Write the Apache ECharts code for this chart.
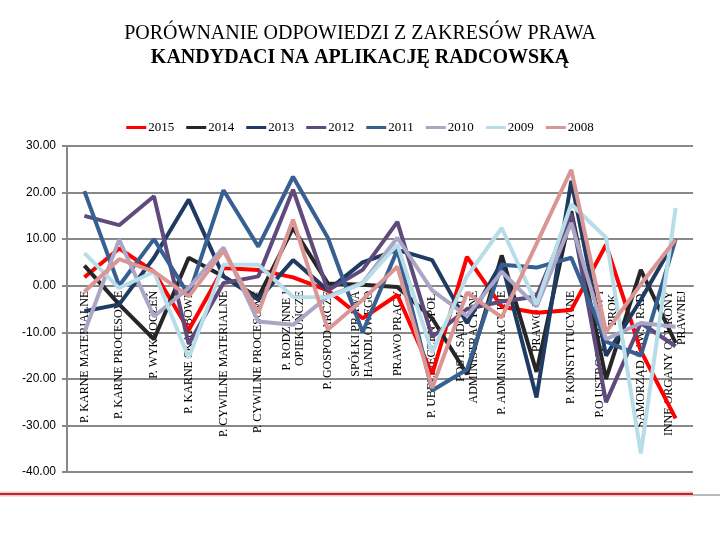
<!DOCTYPE html>
<html>
<head>
<meta charset="utf-8">
<script src="https://cdn.jsdelivr.net/npm/echarts@6/dist/echarts.min.js"></script>
<style>html,body{margin:0;padding:0;background:#fff}#c{width:720px;height:540px}</style>
</head>
<body>
<div id="c"></div>
<script>
const categories = [
  'P. KARNE MATERIALNE', 'P. KARNE PROCESOWE', 'P. WYKROCZEŃ', 'P. KARNE SKARBOWE',
  'P. CYWILNE MATERIALNE', 'P. CYWILNE PROCESOWE', 'P. RODZINNE I\nOPIEKUŃCZE', 'P. GOSPODARCZE',
  'SPÓŁKI PRAWA\nHANDLOWEGO', 'PRAWO PRACY', 'P. UBEZPIECZEŃ SPOŁ.', 'POST. SĄDOWO-\nADMINISTRACYJNE',
  'P. ADMINISTRACYJNE', 'PRAWO UE', 'P. KONSTYTUCYJNE', 'P.O USTROJU SĄDÓW I\nPROK.',
  'SAMORZĄD ZAW. I RAD.', 'INNE ORGANY OCHRONY\nPRAWNEJ'
];
const years = ['2015', '2014', '2013', '2012', '2011', '2010', '2009', '2008'];
const v2015 = [1.8, 8, 3, -9.5, 3.8, 3.4, 1.8, -1, -7, -2, -19, 6.2, -4.5, -5.8, -5.2, 8.8, -14, -28.5];
const v2014 = [4.3, -4, -11.5, 6, 2, -2.5, 12.4, 0.5, 0.2, -0.3, -7, -19, 6.5, -18.5, 16, -20, 3.4, -12.3];
const v2013 = [-5.5, -4, 6, 18.5, 2, -3, 5.5, -1, 5, 7.7, 5.5, -8, 5, -24, 22.5, -15, -3, 10];
const v2012 = [15, 13, 19.2, -12.5, 0.6, 2, 20.6, -1, 3.4, 13.7, -11, -5, -3.4, -2.3, 15.5, -25, -8, -13];
const v2011 = [20.3, 0, 10, -2, 20.5, 8.4, 23.4, 10.3, -10, 7.7, -22.5, -18, 4.5, 3.9, 6, -12, -15, 10];
const v2010 = [-10, 9.9, -6.6, -0.5, 8.2, -7.7, -8.4, -2.3, 0.6, 10.3, -1, -6.5, 3, -4.5, 13.5, -11.5, -8, -8.8];
const v2009 = [7, -0.5, 3, -15.5, 4.5, 4.5, -2.4, -2.5, 0.5, 8.8, -14.4, 2, 12.4, -4, 17.5, 10.3, -36, 16.7];
const v2008 = [-1.3, 5.7, 3, -2.3, 7.5, -5.8, 14.2, -9.4, -3, 4.1, -22, -1.5, -6.8, 9, 24.9, -9.9, 0.3, 9.9];
const seriesValues = [v2015, v2014, v2013, v2012, v2011, v2010, v2009, v2008];
const colors = ['#FF0000', '#262626', '#1F3B63', '#604A7B', '#376092', '#ABA6C6', '#B7DEE8', '#D99694'];
const yTicks = { min: -40, max: 30, interval: 10 };

const chart = echarts.init(document.getElementById('c'), null, { renderer: 'canvas' });
const serif = '"Liberation Serif", "DejaVu Serif", serif';
const sans = '"Liberation Sans", Arial, sans-serif';
const gridColor = '#888888';
const gridTop = 146, gridBottom = 68;
// distance from the plot bottom (-40) up to the zero line, so the category labels sit just under zero
const zeroOffset = (540 - gridTop - gridBottom) * (0 - yTicks.min) / (yTicks.max - yTicks.min);

chart.setOption({
  animation: false,
  backgroundColor: '#ffffff',
  color: colors,
  title: [
    { text: 'PORÓWNANIE ODPOWIEDZI Z ZAKRESÓW PRAWA', left: 'center', top: 19,
      textStyle: { fontFamily: serif, fontSize: 20, fontWeight: 'normal', color: '#000' } },
    { text: 'KANDYDACI NA APLIKACJĘ RADCOWSKĄ', left: 'center', top: 43,
      textStyle: { fontFamily: serif, fontSize: 20, fontWeight: 'bold', color: '#000' } }
  ],
  legend: {
    top: 116, left: 'center', itemGap: 12, itemWidth: 20, itemHeight: 3, icon: 'rect',
    textStyle: { fontFamily: serif, fontSize: 13, color: '#000', padding: [0, 0, 0, -3] },
    data: years
  },
  grid: { left: 67, right: 27, top: gridTop, bottom: gridBottom, containLabel: false, outerBoundsMode: 'none' },
  xAxis: {
    type: 'category', data: categories, boundaryGap: true,
    axisLine: { show: true, onZero: true, lineStyle: { color: gridColor, width: 2 } },
    axisTick: { show: false },
    splitLine: { show: false },
    axisLabel: { interval: 0, rotate: 90, margin: 5 - zeroOffset, fontFamily: serif, fontSize: 12, lineHeight: 13, color: '#000',
      hideOverlap: false },
    z: 0
  },
  yAxis: {
    type: 'value', min: yTicks.min, max: yTicks.max, interval: yTicks.interval,
    axisLine: { show: true, lineStyle: { color: gridColor, width: 2 } },
    axisTick: { show: true, length: 5, lineStyle: { color: gridColor, width: 2 } },
    splitLine: { show: true, lineStyle: { color: gridColor, width: 2 } },
    axisLabel: { formatter: v => v.toFixed(2), fontFamily: sans, fontSize: 12, color: '#000', margin: 11 },
    z: 0
  },
  series: years.map((y, i) => ({
    name: y, type: 'line', data: seriesValues[i], symbol: 'none',
    lineStyle: { width: 4, color: colors[i] }, itemStyle: { color: colors[i] }, z: 3
  })),
  graphic: [
    { type: 'line', shape: { x1: 0, y1: 494, x2: 693, y2: 494 }, style: { stroke: '#F2C4C4', lineWidth: 5 }, silent: true },
    { type: 'line', shape: { x1: 0, y1: 494, x2: 693, y2: 494 }, style: { stroke: '#B8292E', lineWidth: 2 }, silent: true },
    { type: 'line', shape: { x1: 693, y1: 495, x2: 720, y2: 495 }, style: { stroke: '#777', lineWidth: 1 }, silent: true }
  ]
});
</script>
</body>
</html>
